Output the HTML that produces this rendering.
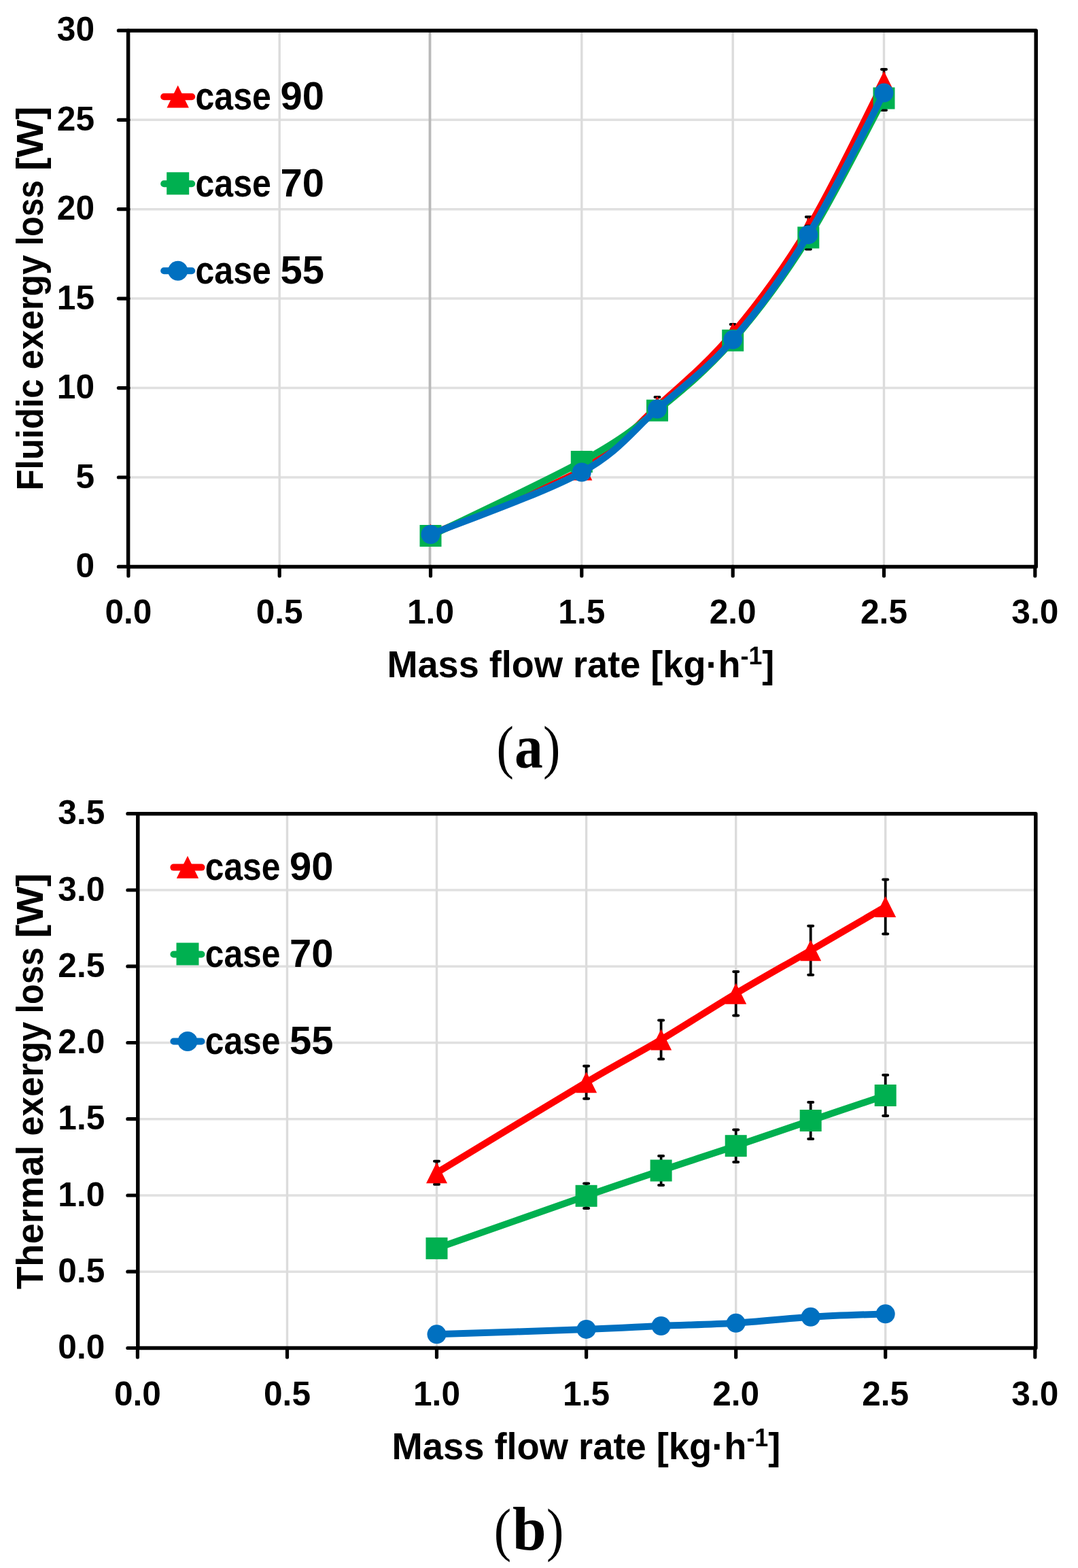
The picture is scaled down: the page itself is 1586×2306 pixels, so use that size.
<!DOCTYPE html><html><head><meta charset="utf-8"><title>Exergy loss charts</title><style>html,body{margin:0;padding:0;background:#fff;}svg{display:block;}text{font-family:'Liberation Sans', Arial, sans-serif;fill:#000;}</style></head><body>
<svg width="1586" height="2306" viewBox="0 0 1586 2306">
<rect width="1586" height="2306" fill="#fff"/>
<line x1="188.9" y1="702.0" x2="1522.8" y2="702.0" stroke="#e0e0e0" stroke-width="3.5"/>
<line x1="188.9" y1="570.6" x2="1522.8" y2="570.6" stroke="#e0e0e0" stroke-width="3.5"/>
<line x1="188.9" y1="439.1" x2="1522.8" y2="439.1" stroke="#e0e0e0" stroke-width="3.5"/>
<line x1="188.9" y1="307.7" x2="1522.8" y2="307.7" stroke="#e0e0e0" stroke-width="3.5"/>
<line x1="188.9" y1="176.3" x2="1522.8" y2="176.3" stroke="#e0e0e0" stroke-width="3.5"/>
<line x1="411.2" y1="44.9" x2="411.2" y2="833.4" stroke="#dcdcdc" stroke-width="3.4"/>
<line x1="632.5" y1="44.9" x2="632.5" y2="833.4" stroke="#b9b9b9" stroke-width="3.8"/>
<line x1="855.8" y1="44.9" x2="855.8" y2="833.4" stroke="#dcdcdc" stroke-width="3.4"/>
<line x1="1078.2" y1="44.9" x2="1078.2" y2="833.4" stroke="#dcdcdc" stroke-width="3.4"/>
<line x1="1300.5" y1="44.9" x2="1300.5" y2="833.4" stroke="#dcdcdc" stroke-width="3.4"/>
<rect x="188.6" y="44.9" width="1335.6" height="788.5" fill="none" stroke="#000" stroke-width="5.5" stroke-linejoin="round"/>
<line x1="174.4" y1="833.4" x2="188.9" y2="833.4" stroke="#000" stroke-width="5.2" stroke-linecap="round"/>
<line x1="174.4" y1="702.0" x2="188.9" y2="702.0" stroke="#000" stroke-width="5.2" stroke-linecap="round"/>
<line x1="174.4" y1="570.6" x2="188.9" y2="570.6" stroke="#000" stroke-width="5.2" stroke-linecap="round"/>
<line x1="174.4" y1="439.1" x2="188.9" y2="439.1" stroke="#000" stroke-width="5.2" stroke-linecap="round"/>
<line x1="174.4" y1="307.7" x2="188.9" y2="307.7" stroke="#000" stroke-width="5.2" stroke-linecap="round"/>
<line x1="174.4" y1="176.3" x2="188.9" y2="176.3" stroke="#000" stroke-width="5.2" stroke-linecap="round"/>
<line x1="174.4" y1="44.9" x2="188.9" y2="44.9" stroke="#000" stroke-width="5.2" stroke-linecap="round"/>
<line x1="188.9" y1="833.4" x2="188.9" y2="846.9" stroke="#000" stroke-width="5.2" stroke-linecap="round"/>
<line x1="411.2" y1="833.4" x2="411.2" y2="846.9" stroke="#000" stroke-width="5.2" stroke-linecap="round"/>
<line x1="633.5" y1="833.4" x2="633.5" y2="846.9" stroke="#000" stroke-width="5.2" stroke-linecap="round"/>
<line x1="855.8" y1="833.4" x2="855.8" y2="846.9" stroke="#000" stroke-width="5.2" stroke-linecap="round"/>
<line x1="1078.2" y1="833.4" x2="1078.2" y2="846.9" stroke="#000" stroke-width="5.2" stroke-linecap="round"/>
<line x1="1300.5" y1="833.4" x2="1300.5" y2="846.9" stroke="#000" stroke-width="5.2" stroke-linecap="round"/>
<line x1="1522.8" y1="833.4" x2="1522.8" y2="846.9" stroke="#000" stroke-width="5.2" stroke-linecap="round"/>
<text x="139.0" y="848.9" font-size="49.6" font-weight="bold" text-anchor="end">0</text>
<text x="139.0" y="717.5" font-size="49.6" font-weight="bold" text-anchor="end">5</text>
<text x="139.0" y="586.1" font-size="49.6" font-weight="bold" text-anchor="end">10</text>
<text x="139.0" y="454.6" font-size="49.6" font-weight="bold" text-anchor="end">15</text>
<text x="139.0" y="323.2" font-size="49.6" font-weight="bold" text-anchor="end">20</text>
<text x="139.0" y="191.8" font-size="49.6" font-weight="bold" text-anchor="end">25</text>
<text x="139.0" y="60.4" font-size="49.6" font-weight="bold" text-anchor="end">30</text>
<text x="188.9" y="916.8" font-size="49.6" font-weight="bold" text-anchor="middle">0.0</text>
<text x="411.2" y="916.8" font-size="49.6" font-weight="bold" text-anchor="middle">0.5</text>
<text x="633.5" y="916.8" font-size="49.6" font-weight="bold" text-anchor="middle">1.0</text>
<text x="855.8" y="916.8" font-size="49.6" font-weight="bold" text-anchor="middle">1.5</text>
<text x="1078.2" y="916.8" font-size="49.6" font-weight="bold" text-anchor="middle">2.0</text>
<text x="1300.5" y="916.8" font-size="49.6" font-weight="bold" text-anchor="middle">2.5</text>
<text x="1522.8" y="916.8" font-size="49.6" font-weight="bold" text-anchor="middle">3.0</text>
<line x1="967.0" y1="584.0" x2="967.0" y2="612.0" stroke="#000" stroke-width="3.8"/><line x1="963.5" y1="584.0" x2="970.5" y2="584.0" stroke="#000" stroke-width="4" stroke-linecap="round"/><line x1="963.5" y1="612.0" x2="970.5" y2="612.0" stroke="#000" stroke-width="4" stroke-linecap="round"/>
<line x1="1078.2" y1="477.0" x2="1078.2" y2="503.0" stroke="#000" stroke-width="3.8"/><line x1="1074.7" y1="477.0" x2="1081.7" y2="477.0" stroke="#000" stroke-width="4" stroke-linecap="round"/><line x1="1074.7" y1="503.0" x2="1081.7" y2="503.0" stroke="#000" stroke-width="4" stroke-linecap="round"/>
<line x1="1189.3" y1="319.0" x2="1189.3" y2="351.0" stroke="#000" stroke-width="3.8"/><line x1="1185.8" y1="319.0" x2="1192.8" y2="319.0" stroke="#000" stroke-width="4" stroke-linecap="round"/><line x1="1185.8" y1="351.0" x2="1192.8" y2="351.0" stroke="#000" stroke-width="4" stroke-linecap="round"/>
<line x1="1300.5" y1="102.0" x2="1300.5" y2="138.0" stroke="#000" stroke-width="3.8"/><line x1="1297.0" y1="102.0" x2="1304.0" y2="102.0" stroke="#000" stroke-width="4" stroke-linecap="round"/><line x1="1297.0" y1="138.0" x2="1304.0" y2="138.0" stroke="#000" stroke-width="4" stroke-linecap="round"/>
<path d="M633.5,786.0 C670.6,770.2 800.3,722.3 855.8,691.0 C911.4,659.7 930.0,631.5 967.0,598.0 C1004.1,564.5 1041.1,533.8 1078.2,490.0 C1115.2,446.2 1152.3,396.7 1189.3,335.0 C1226.4,273.3 1282.0,155.8 1300.5,120.0" fill="none" stroke="#ff0000" stroke-width="10" stroke-linejoin="round" stroke-linecap="round"/>
<polygon points="633.5,770.5 649.0,801.5 618.0,801.5" fill="#ff0000"/>
<polygon points="855.8,675.5 871.3,706.5 840.3,706.5" fill="#ff0000"/>
<polygon points="967.0,582.5 982.5,613.5 951.5,613.5" fill="#ff0000"/>
<polygon points="1078.2,474.5 1093.7,505.5 1062.7,505.5" fill="#ff0000"/>
<polygon points="1189.3,319.5 1204.8,350.5 1173.8,350.5" fill="#ff0000"/>
<polygon points="1300.5,104.5 1316.0,135.5 1285.0,135.5" fill="#ff0000"/>
<line x1="1189.3" y1="332.4" x2="1189.3" y2="366.4" stroke="#000" stroke-width="3.8"/><line x1="1185.8" y1="332.4" x2="1192.8" y2="332.4" stroke="#000" stroke-width="4" stroke-linecap="round"/><line x1="1185.8" y1="366.4" x2="1192.8" y2="366.4" stroke="#000" stroke-width="4" stroke-linecap="round"/>
<line x1="1300.5" y1="127.0" x2="1300.5" y2="162.0" stroke="#000" stroke-width="3.8"/><line x1="1297.0" y1="127.0" x2="1304.0" y2="127.0" stroke="#000" stroke-width="4" stroke-linecap="round"/><line x1="1297.0" y1="162.0" x2="1304.0" y2="162.0" stroke="#000" stroke-width="4" stroke-linecap="round"/>
<path d="M633.5,788.0 C670.6,769.8 800.3,709.7 855.8,679.0 C911.4,648.3 930.0,633.4 967.0,603.7 C1004.1,574.0 1041.1,543.1 1078.2,500.7 C1115.2,458.3 1152.3,408.8 1189.3,349.4 C1226.4,290.0 1282.0,178.6 1300.5,144.5" fill="none" stroke="#00b050" stroke-width="10" stroke-linejoin="round" stroke-linecap="round"/>
<rect x="617.5" y="772.0" width="32" height="32" fill="#00b050"/>
<rect x="839.8" y="663.0" width="32" height="32" fill="#00b050"/>
<rect x="951.0" y="587.7" width="32" height="32" fill="#00b050"/>
<rect x="1062.2" y="484.7" width="32" height="32" fill="#00b050"/>
<rect x="1173.3" y="333.4" width="32" height="32" fill="#00b050"/>
<rect x="1284.5" y="128.5" width="32" height="32" fill="#00b050"/>
<path d="M633.5,786.0 C670.6,770.8 800.3,725.2 855.8,694.5 C911.4,663.8 930.0,634.1 967.0,601.6 C1004.1,569.1 1041.1,542.3 1078.2,499.6 C1115.2,456.9 1152.3,405.7 1189.3,345.2 C1226.4,284.7 1282.0,171.4 1300.5,136.6" fill="none" stroke="#0070c0" stroke-width="10" stroke-linejoin="round" stroke-linecap="round"/>
<circle cx="633.5" cy="786.0" r="14" fill="#0070c0"/>
<circle cx="855.8" cy="694.5" r="14" fill="#0070c0"/>
<circle cx="967.0" cy="601.6" r="14" fill="#0070c0"/>
<circle cx="1078.2" cy="499.6" r="14" fill="#0070c0"/>
<circle cx="1189.3" cy="345.2" r="14" fill="#0070c0"/>
<circle cx="1300.5" cy="136.6" r="14" fill="#0070c0"/>
<line x1="241.2" y1="142.3" x2="282.2" y2="142.3" stroke="#ff0000" stroke-width="10" stroke-linecap="round"/>
<polygon points="261.7,125.4 277.9,158.4 245.5,158.4" fill="#ff0000"/>
<text x="287.5" y="161.1" font-size="57" font-weight="bold" text-anchor="start" textLength="111.5" lengthAdjust="spacingAndGlyphs">case</text>
<text x="412.5" y="161.1" font-size="57" font-weight="bold" text-anchor="start" textLength="64.5" lengthAdjust="spacingAndGlyphs">90</text>
<line x1="241.2" y1="270.3" x2="282.2" y2="270.3" stroke="#00b050" stroke-width="10" stroke-linecap="round"/>
<rect x="245.2" y="253.3" width="33" height="33" fill="#00b050"/>
<text x="287.5" y="289.1" font-size="57" font-weight="bold" text-anchor="start" textLength="111.5" lengthAdjust="spacingAndGlyphs">case</text>
<text x="412.5" y="289.1" font-size="57" font-weight="bold" text-anchor="start" textLength="64.5" lengthAdjust="spacingAndGlyphs">70</text>
<line x1="241.2" y1="398.2" x2="282.2" y2="398.2" stroke="#0070c0" stroke-width="10" stroke-linecap="round"/>
<circle cx="261.7" cy="398.2" r="14.5" fill="#0070c0"/>
<text x="287.5" y="417.0" font-size="57" font-weight="bold" text-anchor="start" textLength="111.5" lengthAdjust="spacingAndGlyphs">case</text>
<text x="412.5" y="417.0" font-size="57" font-weight="bold" text-anchor="start" textLength="64.5" lengthAdjust="spacingAndGlyphs">55</text>
<text x="569.4" y="996.3" font-size="56" font-weight="bold" textLength="570.0" lengthAdjust="spacingAndGlyphs">Mass flow rate [kg·h<tspan dy="-19" font-size="37">-1</tspan><tspan dy="19">]</tspan></text>
<text transform="translate(63.0,721.6) rotate(-90)" x="0" y="0" font-size="56" font-weight="bold" textLength="164.3" lengthAdjust="spacingAndGlyphs">Fluidic</text>
<text transform="translate(63.0,543.2) rotate(-90)" x="0" y="0" font-size="56" font-weight="bold" textLength="168.2" lengthAdjust="spacingAndGlyphs">exergy</text>
<text transform="translate(63.0,361.0) rotate(-90)" x="0" y="0" font-size="56" font-weight="bold" textLength="96.0" lengthAdjust="spacingAndGlyphs">loss</text>
<text transform="translate(63.0,251.0) rotate(-90)" x="0" y="0" font-size="56" font-weight="bold" textLength="94.5" lengthAdjust="spacingAndGlyphs">[W]</text>
<line x1="202.4" y1="1870.2" x2="1522.8" y2="1870.2" stroke="#e0e0e0" stroke-width="3.5"/>
<line x1="202.4" y1="1758.0" x2="1522.8" y2="1758.0" stroke="#e0e0e0" stroke-width="3.5"/>
<line x1="202.4" y1="1645.7" x2="1522.8" y2="1645.7" stroke="#e0e0e0" stroke-width="3.5"/>
<line x1="202.4" y1="1533.5" x2="1522.8" y2="1533.5" stroke="#e0e0e0" stroke-width="3.5"/>
<line x1="202.4" y1="1421.2" x2="1522.8" y2="1421.2" stroke="#e0e0e0" stroke-width="3.5"/>
<line x1="202.4" y1="1309.0" x2="1522.8" y2="1309.0" stroke="#e0e0e0" stroke-width="3.5"/>
<line x1="422.5" y1="1196.7" x2="422.5" y2="1982.5" stroke="#dcdcdc" stroke-width="3.4"/>
<line x1="642.5" y1="1196.7" x2="642.5" y2="1982.5" stroke="#dcdcdc" stroke-width="3.4"/>
<line x1="862.6" y1="1196.7" x2="862.6" y2="1982.5" stroke="#dcdcdc" stroke-width="3.4"/>
<line x1="1082.7" y1="1196.7" x2="1082.7" y2="1982.5" stroke="#dcdcdc" stroke-width="3.4"/>
<line x1="1302.7" y1="1196.7" x2="1302.7" y2="1982.5" stroke="#dcdcdc" stroke-width="3.4"/>
<rect x="202.8" y="1196.7" width="1321.0" height="785.8" fill="none" stroke="#000" stroke-width="5.5" stroke-linejoin="round"/>
<line x1="187.9" y1="1982.5" x2="202.4" y2="1982.5" stroke="#000" stroke-width="5.2" stroke-linecap="round"/>
<line x1="187.9" y1="1870.2" x2="202.4" y2="1870.2" stroke="#000" stroke-width="5.2" stroke-linecap="round"/>
<line x1="187.9" y1="1758.0" x2="202.4" y2="1758.0" stroke="#000" stroke-width="5.2" stroke-linecap="round"/>
<line x1="187.9" y1="1645.7" x2="202.4" y2="1645.7" stroke="#000" stroke-width="5.2" stroke-linecap="round"/>
<line x1="187.9" y1="1533.5" x2="202.4" y2="1533.5" stroke="#000" stroke-width="5.2" stroke-linecap="round"/>
<line x1="187.9" y1="1421.2" x2="202.4" y2="1421.2" stroke="#000" stroke-width="5.2" stroke-linecap="round"/>
<line x1="187.9" y1="1309.0" x2="202.4" y2="1309.0" stroke="#000" stroke-width="5.2" stroke-linecap="round"/>
<line x1="187.9" y1="1196.7" x2="202.4" y2="1196.7" stroke="#000" stroke-width="5.2" stroke-linecap="round"/>
<line x1="202.4" y1="1982.5" x2="202.4" y2="1996.0" stroke="#000" stroke-width="5.2" stroke-linecap="round"/>
<line x1="422.5" y1="1982.5" x2="422.5" y2="1996.0" stroke="#000" stroke-width="5.2" stroke-linecap="round"/>
<line x1="642.5" y1="1982.5" x2="642.5" y2="1996.0" stroke="#000" stroke-width="5.2" stroke-linecap="round"/>
<line x1="862.6" y1="1982.5" x2="862.6" y2="1996.0" stroke="#000" stroke-width="5.2" stroke-linecap="round"/>
<line x1="1082.7" y1="1982.5" x2="1082.7" y2="1996.0" stroke="#000" stroke-width="5.2" stroke-linecap="round"/>
<line x1="1302.7" y1="1982.5" x2="1302.7" y2="1996.0" stroke="#000" stroke-width="5.2" stroke-linecap="round"/>
<line x1="1522.8" y1="1982.5" x2="1522.8" y2="1996.0" stroke="#000" stroke-width="5.2" stroke-linecap="round"/>
<text x="154.3" y="1998.0" font-size="49.6" font-weight="bold" text-anchor="end">0.0</text>
<text x="154.3" y="1885.7" font-size="49.6" font-weight="bold" text-anchor="end">0.5</text>
<text x="154.3" y="1773.5" font-size="49.6" font-weight="bold" text-anchor="end">1.0</text>
<text x="154.3" y="1661.2" font-size="49.6" font-weight="bold" text-anchor="end">1.5</text>
<text x="154.3" y="1549.0" font-size="49.6" font-weight="bold" text-anchor="end">2.0</text>
<text x="154.3" y="1436.7" font-size="49.6" font-weight="bold" text-anchor="end">2.5</text>
<text x="154.3" y="1324.5" font-size="49.6" font-weight="bold" text-anchor="end">3.0</text>
<text x="154.3" y="1212.2" font-size="49.6" font-weight="bold" text-anchor="end">3.5</text>
<text x="202.4" y="2066.9" font-size="49.6" font-weight="bold" text-anchor="middle">0.0</text>
<text x="422.5" y="2066.9" font-size="49.6" font-weight="bold" text-anchor="middle">0.5</text>
<text x="642.5" y="2066.9" font-size="49.6" font-weight="bold" text-anchor="middle">1.0</text>
<text x="862.6" y="2066.9" font-size="49.6" font-weight="bold" text-anchor="middle">1.5</text>
<text x="1082.7" y="2066.9" font-size="49.6" font-weight="bold" text-anchor="middle">2.0</text>
<text x="1302.7" y="2066.9" font-size="49.6" font-weight="bold" text-anchor="middle">2.5</text>
<text x="1522.8" y="2066.9" font-size="49.6" font-weight="bold" text-anchor="middle">3.0</text>
<line x1="642.5" y1="1707.8" x2="642.5" y2="1741.8" stroke="#000" stroke-width="3.8"/><line x1="639.0" y1="1707.8" x2="646.0" y2="1707.8" stroke="#000" stroke-width="4" stroke-linecap="round"/><line x1="639.0" y1="1741.8" x2="646.0" y2="1741.8" stroke="#000" stroke-width="4" stroke-linecap="round"/>
<line x1="862.6" y1="1567.7" x2="862.6" y2="1615.7" stroke="#000" stroke-width="3.8"/><line x1="859.1" y1="1567.7" x2="866.1" y2="1567.7" stroke="#000" stroke-width="4" stroke-linecap="round"/><line x1="859.1" y1="1615.7" x2="866.1" y2="1615.7" stroke="#000" stroke-width="4" stroke-linecap="round"/>
<line x1="972.6" y1="1500.5" x2="972.6" y2="1557.5" stroke="#000" stroke-width="3.8"/><line x1="969.1" y1="1500.5" x2="976.1" y2="1500.5" stroke="#000" stroke-width="4" stroke-linecap="round"/><line x1="969.1" y1="1557.5" x2="976.1" y2="1557.5" stroke="#000" stroke-width="4" stroke-linecap="round"/>
<line x1="1082.7" y1="1429.0" x2="1082.7" y2="1493.4" stroke="#000" stroke-width="3.8"/><line x1="1079.2" y1="1429.0" x2="1086.2" y2="1429.0" stroke="#000" stroke-width="4" stroke-linecap="round"/><line x1="1079.2" y1="1493.4" x2="1086.2" y2="1493.4" stroke="#000" stroke-width="4" stroke-linecap="round"/>
<line x1="1192.7" y1="1361.7" x2="1192.7" y2="1433.7" stroke="#000" stroke-width="3.8"/><line x1="1189.2" y1="1361.7" x2="1196.2" y2="1361.7" stroke="#000" stroke-width="4" stroke-linecap="round"/><line x1="1189.2" y1="1433.7" x2="1196.2" y2="1433.7" stroke="#000" stroke-width="4" stroke-linecap="round"/>
<line x1="1302.7" y1="1293.5" x2="1302.7" y2="1373.5" stroke="#000" stroke-width="3.8"/><line x1="1299.2" y1="1293.5" x2="1306.2" y2="1293.5" stroke="#000" stroke-width="4" stroke-linecap="round"/><line x1="1299.2" y1="1373.5" x2="1306.2" y2="1373.5" stroke="#000" stroke-width="4" stroke-linecap="round"/>
<path d="M642.5,1724.8 C679.2,1702.6 807.6,1624.3 862.6,1591.7 C917.6,1559.1 936.0,1550.8 972.6,1529.0 C1009.3,1507.2 1046.0,1483.1 1082.7,1461.2 C1119.3,1439.3 1156.0,1419.0 1192.7,1397.7 C1229.4,1376.4 1284.4,1344.2 1302.7,1333.5" fill="none" stroke="#ff0000" stroke-width="10" stroke-linejoin="round" stroke-linecap="round"/>
<polygon points="642.5,1709.3 658.0,1740.3 627.0,1740.3" fill="#ff0000"/>
<polygon points="862.6,1576.2 878.1,1607.2 847.1,1607.2" fill="#ff0000"/>
<polygon points="972.6,1513.5 988.1,1544.5 957.1,1544.5" fill="#ff0000"/>
<polygon points="1082.7,1445.7 1098.2,1476.7 1067.2,1476.7" fill="#ff0000"/>
<polygon points="1192.7,1382.2 1208.2,1413.2 1177.2,1413.2" fill="#ff0000"/>
<polygon points="1302.7,1318.0 1318.2,1349.0 1287.2,1349.0" fill="#ff0000"/>
<line x1="862.6" y1="1740.6" x2="862.6" y2="1777.0" stroke="#000" stroke-width="3.8"/><line x1="859.1" y1="1740.6" x2="866.1" y2="1740.6" stroke="#000" stroke-width="4" stroke-linecap="round"/><line x1="859.1" y1="1777.0" x2="866.1" y2="1777.0" stroke="#000" stroke-width="4" stroke-linecap="round"/>
<line x1="972.6" y1="1700.0" x2="972.6" y2="1743.0" stroke="#000" stroke-width="3.8"/><line x1="969.1" y1="1700.0" x2="976.1" y2="1700.0" stroke="#000" stroke-width="4" stroke-linecap="round"/><line x1="969.1" y1="1743.0" x2="976.1" y2="1743.0" stroke="#000" stroke-width="4" stroke-linecap="round"/>
<line x1="1082.7" y1="1661.4" x2="1082.7" y2="1709.0" stroke="#000" stroke-width="3.8"/><line x1="1079.2" y1="1661.4" x2="1086.2" y2="1661.4" stroke="#000" stroke-width="4" stroke-linecap="round"/><line x1="1079.2" y1="1709.0" x2="1086.2" y2="1709.0" stroke="#000" stroke-width="4" stroke-linecap="round"/>
<line x1="1192.7" y1="1621.0" x2="1192.7" y2="1675.0" stroke="#000" stroke-width="3.8"/><line x1="1189.2" y1="1621.0" x2="1196.2" y2="1621.0" stroke="#000" stroke-width="4" stroke-linecap="round"/><line x1="1189.2" y1="1675.0" x2="1196.2" y2="1675.0" stroke="#000" stroke-width="4" stroke-linecap="round"/>
<line x1="1302.7" y1="1581.0" x2="1302.7" y2="1641.0" stroke="#000" stroke-width="3.8"/><line x1="1299.2" y1="1581.0" x2="1306.2" y2="1581.0" stroke="#000" stroke-width="4" stroke-linecap="round"/><line x1="1299.2" y1="1641.0" x2="1306.2" y2="1641.0" stroke="#000" stroke-width="4" stroke-linecap="round"/>
<path d="M642.5,1835.9 C679.2,1823.1 807.6,1777.9 862.6,1758.8 C917.6,1739.7 936.0,1733.8 972.6,1721.5 C1009.3,1709.2 1046.0,1697.5 1082.7,1685.2 C1119.3,1673.0 1156.0,1660.4 1192.7,1648.0 C1229.4,1635.6 1284.4,1617.2 1302.7,1611.0" fill="none" stroke="#00b050" stroke-width="10" stroke-linejoin="round" stroke-linecap="round"/>
<rect x="626.5" y="1819.9" width="32" height="32" fill="#00b050"/>
<rect x="846.6" y="1742.8" width="32" height="32" fill="#00b050"/>
<rect x="956.6" y="1705.5" width="32" height="32" fill="#00b050"/>
<rect x="1066.7" y="1669.2" width="32" height="32" fill="#00b050"/>
<rect x="1176.7" y="1632.0" width="32" height="32" fill="#00b050"/>
<rect x="1286.7" y="1595.0" width="32" height="32" fill="#00b050"/>
<path d="M642.5,1962.3 C679.2,1961.1 807.6,1957.0 862.6,1954.9 C917.6,1952.9 936.0,1951.5 972.6,1950.0 C1009.3,1948.5 1046.0,1948.0 1082.7,1945.8 C1119.3,1943.6 1156.0,1939.0 1192.7,1936.8 C1229.4,1934.5 1284.4,1933.0 1302.7,1932.3" fill="none" stroke="#0070c0" stroke-width="10" stroke-linejoin="round" stroke-linecap="round"/>
<circle cx="642.5" cy="1962.3" r="14" fill="#0070c0"/>
<circle cx="862.6" cy="1954.9" r="14" fill="#0070c0"/>
<circle cx="972.6" cy="1950.0" r="14" fill="#0070c0"/>
<circle cx="1082.7" cy="1945.8" r="14" fill="#0070c0"/>
<circle cx="1192.7" cy="1936.8" r="14" fill="#0070c0"/>
<circle cx="1302.7" cy="1932.3" r="14" fill="#0070c0"/>
<line x1="255.4" y1="1275.6" x2="296.5" y2="1275.6" stroke="#ff0000" stroke-width="10" stroke-linecap="round"/>
<polygon points="276.0,1258.7 292.2,1291.7 259.8,1291.7" fill="#ff0000"/>
<text x="301.7" y="1294.4" font-size="57" font-weight="bold" text-anchor="start" textLength="110.8" lengthAdjust="spacingAndGlyphs">case</text>
<text x="425.9" y="1294.4" font-size="57" font-weight="bold" text-anchor="start" textLength="64.5" lengthAdjust="spacingAndGlyphs">90</text>
<line x1="255.4" y1="1403.5" x2="296.5" y2="1403.5" stroke="#00b050" stroke-width="10" stroke-linecap="round"/>
<rect x="259.5" y="1386.5" width="33" height="33" fill="#00b050"/>
<text x="301.7" y="1422.3" font-size="57" font-weight="bold" text-anchor="start" textLength="110.8" lengthAdjust="spacingAndGlyphs">case</text>
<text x="425.9" y="1422.3" font-size="57" font-weight="bold" text-anchor="start" textLength="64.5" lengthAdjust="spacingAndGlyphs">70</text>
<line x1="255.4" y1="1531.5" x2="296.5" y2="1531.5" stroke="#0070c0" stroke-width="10" stroke-linecap="round"/>
<circle cx="276.0" cy="1531.5" r="14.5" fill="#0070c0"/>
<text x="301.7" y="1550.3" font-size="57" font-weight="bold" text-anchor="start" textLength="110.8" lengthAdjust="spacingAndGlyphs">case</text>
<text x="425.9" y="1550.3" font-size="57" font-weight="bold" text-anchor="start" textLength="64.5" lengthAdjust="spacingAndGlyphs">55</text>
<text x="576.6" y="2145.7" font-size="56" font-weight="bold" textLength="571.8" lengthAdjust="spacingAndGlyphs">Mass flow rate [kg·h<tspan dy="-19" font-size="37">-1</tspan><tspan dy="19">]</tspan></text>
<text transform="translate(63.2,1896.0) rotate(-90)" x="0" y="0" font-size="56" font-weight="bold" textLength="211.6" lengthAdjust="spacingAndGlyphs">Thermal</text>
<text transform="translate(63.2,1670.6) rotate(-90)" x="0" y="0" font-size="56" font-weight="bold" textLength="167.8" lengthAdjust="spacingAndGlyphs">exergy</text>
<text transform="translate(63.2,1490.6) rotate(-90)" x="0" y="0" font-size="56" font-weight="bold" textLength="97.4" lengthAdjust="spacingAndGlyphs">loss</text>
<text transform="translate(63.2,1379.6) rotate(-90)" x="0" y="0" font-size="56" font-weight="bold" textLength="95.4" lengthAdjust="spacingAndGlyphs">[W]</text>
<text x="730.6" y="1128.2" font-size="86" textLength="25.4" lengthAdjust="spacingAndGlyphs" style="font-family:'Liberation Serif', 'Times New Roman', serif">(</text>
<text x="757.0" y="1129" font-size="92" font-weight="bold" textLength="41.8" lengthAdjust="spacingAndGlyphs" style="font-family:'Liberation Serif', 'Times New Roman', serif">a</text>
<text x="799.1" y="1128.2" font-size="86" textLength="25.4" lengthAdjust="spacingAndGlyphs" style="font-family:'Liberation Serif', 'Times New Roman', serif">)</text>
<text x="726.8" y="2279.2" font-size="86" textLength="25.4" lengthAdjust="spacingAndGlyphs" style="font-family:'Liberation Serif', 'Times New Roman', serif">(</text>
<text x="754.0" y="2278.6" font-size="91" font-weight="bold" textLength="49.7" lengthAdjust="spacingAndGlyphs" style="font-family:'Liberation Serif', 'Times New Roman', serif">b</text>
<text x="804.1" y="2279.2" font-size="86" textLength="25.4" lengthAdjust="spacingAndGlyphs" style="font-family:'Liberation Serif', 'Times New Roman', serif">)</text>
</svg></body></html>
